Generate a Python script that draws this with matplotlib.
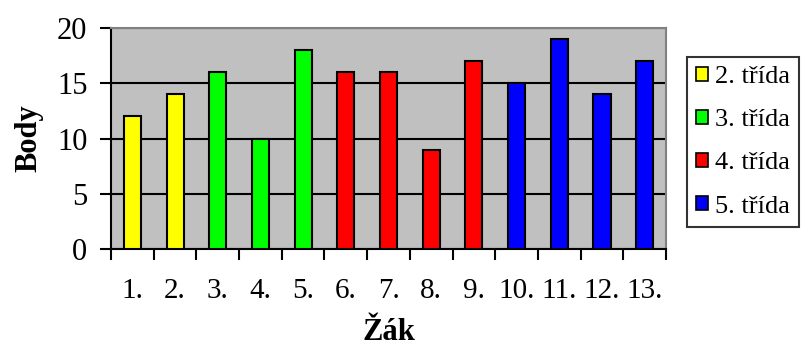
import matplotlib.pyplot as plt
import numpy as np

# data
zaci = ['1.', '2.', '3.', '4.', '5.', '6.', '7.', '8.', '9.', '10.', '11.', '12.', '13.']
body = [12, 14, 16, 10, 18, 16, 16, 9, 17, 15, 19, 14, 17]
tridy = ['2. třída', '2. třída', '3. třída', '3. třída', '3. třída',
         '4. třída', '4. třída', '4. třída', '4. třída',
         '5. třída', '5. třída', '5. třída', '5. třída']
barvy = {'2. třída': '#FFFF00', '3. třída': '#00FF00',
         '4. třída': '#FF0000', '5. třída': '#0000FF'}

plt.rcParams['font.family'] = ['Liberation Serif', 'DejaVu Serif']

fig = plt.figure(figsize=(8.02, 3.49), dpi=100)
ax = fig.add_axes([111 / 802, 1 - 249 / 349, 555 / 802, 221 / 349])
ax.set_facecolor('#C0C0C0')

x = np.arange(len(zaci))
ax.bar(x, body, width=0.4, color=[barvy[t] for t in tridy],
       edgecolor='black', linewidth=1.5, zorder=3)

ax.set_xlim(-0.5, len(zaci) - 0.5)
ax.set_ylim(0, 20)
ax.set_yticks([0, 5, 10, 15, 20])
ax.yaxis.grid(True, color='black', linewidth=1.5, zorder=1)

# ticks at category boundaries, labels at category centres
ax.set_xticks(np.arange(-0.5, len(zaci), 1.0))
ax.set_xticklabels([])
ax.set_xticks(x, minor=True)
ax.set_xticklabels(zaci, minor=True)
ax.tick_params(axis='x', which='major', length=8, width=1.5, direction='out')
ax.tick_params(axis='x', which='minor', length=0, pad=21, labelsize=21)
ax.tick_params(axis='y', length=8, width=1.5, direction='out', pad=9, labelsize=22)

for s in ['left', 'bottom']:
    ax.spines[s].set_color('black')
    ax.spines[s].set_linewidth(1.5)
for s in ['top', 'right']:
    ax.spines[s].set_color('#808080')
    ax.spines[s].set_linewidth(1.5)

ax.set_ylabel('Body', fontsize=22, fontweight='bold', labelpad=10)
ax.set_xlabel('Žák', fontsize=22, fontweight='bold', labelpad=10)

handles = [plt.Rectangle((0, 0), 1, 1, facecolor=barvy[t], edgecolor='black', linewidth=1.2)
           for t in barvy]
leg = fig.legend(handles, list(barvy.keys()), loc='upper left',
                 bbox_to_anchor=(687 / 802, 1 - 57 / 349), borderaxespad=0,
                 fontsize=19, frameon=True, fancybox=False, edgecolor='black',
                 handlelength=0.45, handleheight=0.45, handletextpad=0.25,
                 labelspacing=0.8, borderpad=0.35)
leg.get_frame().set_linewidth(1.5)

fig.savefig('out.png', dpi=100)
